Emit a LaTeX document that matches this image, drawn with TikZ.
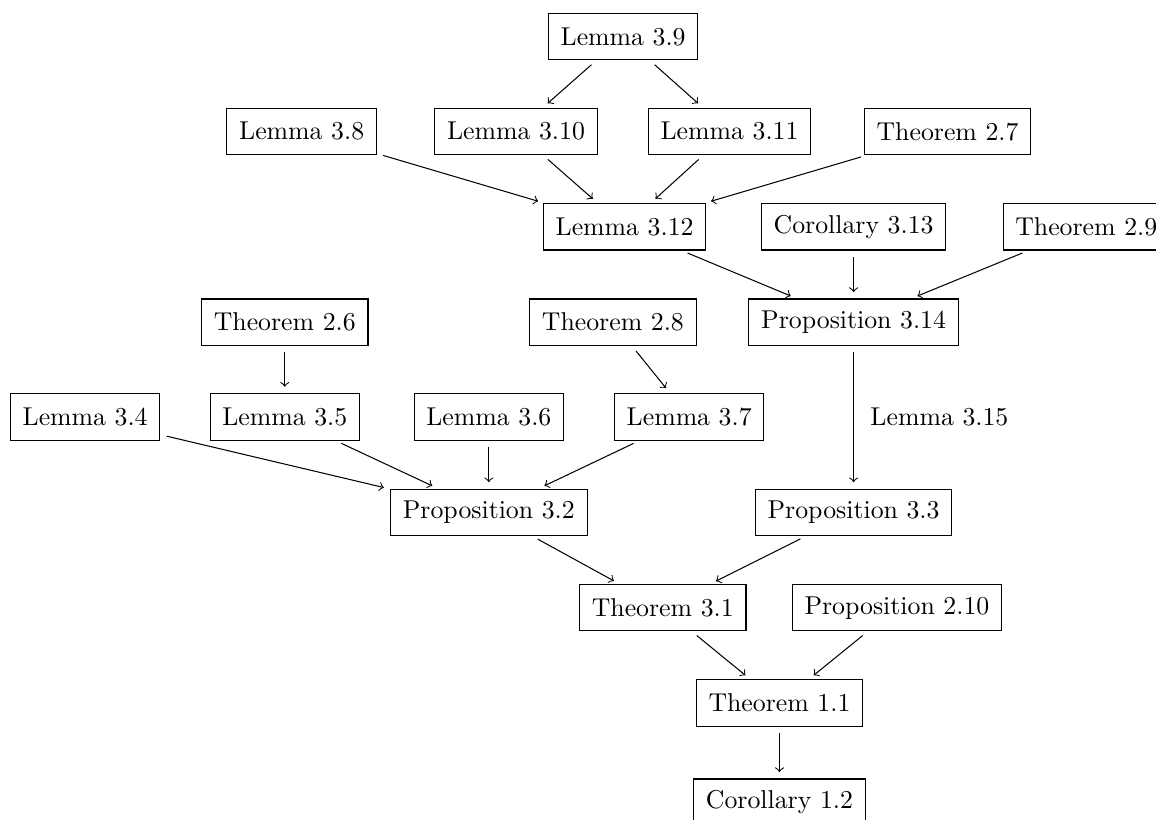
\documentclass[tikz,border=0pt]{standalone}
\begin{document}
\begin{tikzpicture}[
    res/.style={draw, minimum height=18pt, inner xsep=4.75pt, inner ysep=3pt},
    dep/.style={->, shorten <=2.5pt, shorten >=2.5pt}]
    \useasboundingbox (0,0) rectangle (15.75,-11.17);
    % top: Lemma 3.9 and the lemmas it feeds
    \node[res] (l39) at (8.49,-0.50) {Lemma 3.9};
    \node[res] (l38) at (4.11,-1.79) {Lemma 3.8};
    \node[res] (l310) at (7.03,-1.79) {Lemma 3.10};
    \node[res] (l311) at (9.94,-1.79) {Lemma 3.11};
    \node[res] (t27) at (12.91,-1.79) {Theorem 2.7};
    \node[res] (l312) at (8.51,-3.09) {Lemma 3.12};
    \node[res] (c313) at (11.63,-3.09) {Corollary 3.13};
    \node[res] (t29) at (14.80,-3.09) {Theorem 2.9};
    \node[res] (p314) at (11.63,-4.39) {Proposition 3.14};
    % left branch
    \node[res] (t26) at (3.88,-4.39) {Theorem 2.6};
    \node[res] (t28) at (8.35,-4.39) {Theorem 2.8};
    \node[res] (l34) at (1.16,-5.68) {Lemma 3.4};
    \node[res] (l35) at (3.88,-5.68) {Lemma 3.5};
    \node[res] (l36) at (6.66,-5.68) {Lemma 3.6};
    \node[res] (l37) at (9.39,-5.68) {Lemma 3.7};
    \node[res] (p32) at (6.66,-6.98) {Proposition 3.2};
    \node[res] (p33) at (11.63,-6.98) {Proposition 3.3};
    % bottom
    \node[res] (t31) at (9.03,-8.28) {Theorem 3.1};
    \node[res] (p210) at (12.22,-8.28) {Proposition 2.10};
    \node[res] (t11) at (10.62,-9.58) {Theorem 1.1};
    \node[res] (c12) at (10.62,-10.93) {Corollary 1.2};
    % edges into Lemma 3.12
    \draw[dep] (l39) -- (l310);
    \draw[dep] (l39) -- (l311);
    \draw[dep] (l38) -- (l312);
    \draw[dep] (l310) -- (l312);
    \draw[dep] (l311) -- (l312);
    \draw[dep] (t27) -- (l312);
    % edges into Proposition 3.14
    \draw[dep] (l312) -- (p314);
    \draw[dep] (c313) -- (p314);
    \draw[dep] (t29) -- (p314);
    \draw[dep] (p314) -- node[right=3pt] {Lemma 3.15} (p33);
    % edges into Proposition 3.2
    \draw[dep] (t26) -- (l35);
    \draw[dep] (t28) -- (l37);
    \draw[dep] (l34) -- (p32);
    \draw[dep] (l35) -- (p32);
    \draw[dep] (l36) -- (p32);
    \draw[dep] (l37) -- (p32);
    % down to Corollary 1.2
    \draw[dep] (p32) -- (t31);
    \draw[dep] (p33) -- (t31);
    \draw[dep] (t31) -- (t11);
    \draw[dep] (p210) -- (t11);
    \draw[dep] (t11) -- (c12);
\end{tikzpicture}
\end{document}
